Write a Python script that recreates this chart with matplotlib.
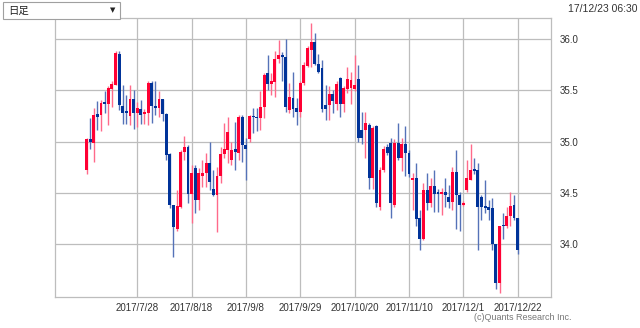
import matplotlib
matplotlib.use("Agg")
import matplotlib.pyplot as plt
from matplotlib.patches import Rectangle
import numpy as np

opens = [34.72, 35.02, 34.99, 35.27, 35.26, 35.39, 35.37, 35.51, 35.55, 35.86,
         35.35, 35.30, 35.25, 35.42, 35.28, 35.32, 35.27, 35.28, 35.57, 35.35,
         35.33, 35.42, 35.27, 34.88, 34.38, 34.14, 34.36, 34.90, 34.95, 34.49,
         34.74, 34.43, 34.66, 34.69, 34.79, 34.54, 34.48, 34.66, 34.88, 34.92,
         34.82, 34.93, 34.89, 35.24, 34.97, 35.02, 35.25, 35.24, 35.23, 35.34,
         35.67, 35.56, 35.58, 35.81, 35.85, 35.83, 35.31, 35.43, 35.33, 35.29,
         35.57, 35.74, 35.90, 35.97, 35.76, 35.72, 35.36, 35.36, 35.46, 35.37,
         35.62, 35.37, 35.51, 35.52, 35.51, 35.61, 35.11, 35.11, 35.16, 34.64,
         35.15, 34.36, 34.72, 34.95, 34.99, 34.38, 34.99, 34.84, 34.98, 34.89,
         34.62, 34.64, 34.25, 34.05, 34.53, 34.40, 34.57, 34.51, 34.49, 34.51,
         34.46, 34.41, 34.70, 34.48, 34.38, 34.53, 34.62, 34.73, 34.72, 34.46,
         34.37, 34.36, 34.35, 34.00, 33.62, 34.18, 34.17, 34.27, 34.38, 34.25]
highs = [35.03, 35.23, 35.33, 35.40, 35.41, 35.49, 35.54, 35.59, 35.89, 35.89,
         35.55, 35.46, 35.55, 35.50, 35.39, 35.41, 35.32, 35.59, 35.59, 35.59,
         35.49, 35.42, 35.28, 34.89, 34.38, 34.53, 34.92, 35.05, 34.97, 34.77,
         34.77, 34.74, 34.82, 34.89, 35.00, 34.72, 34.75, 34.95, 35.18, 35.24,
         35.00, 35.19, 35.26, 35.26, 35.03, 35.26, 35.33, 35.33, 35.49, 35.67,
         35.85, 35.67, 35.89, 35.99, 35.88, 36.00, 35.57, 35.68, 35.43, 35.59,
         35.78, 35.93, 36.16, 36.06, 35.86, 35.80, 35.55, 35.54, 35.50, 35.59,
         35.63, 35.54, 35.73, 35.68, 35.85, 35.75, 35.29, 35.29, 35.18, 35.15,
         35.16, 34.75, 34.96, 34.98, 35.03, 35.02, 35.18, 35.03, 35.15, 34.92,
         34.69, 34.79, 34.33, 34.59, 34.69, 34.64, 34.72, 34.54, 34.55, 34.64,
         34.58, 34.75, 34.92, 34.51, 34.42, 34.82, 34.98, 34.84, 34.79, 34.48,
         34.62, 34.43, 34.45, 34.00, 34.17, 34.30, 34.36, 34.51, 34.48, 34.25]
lows = [34.68, 34.93, 34.80, 35.11, 35.10, 35.28, 35.16, 35.34, 35.55, 35.31,
        35.17, 35.17, 35.16, 35.12, 35.14, 35.17, 35.17, 35.16, 35.18, 35.26,
        35.24, 35.20, 34.82, 34.35, 33.87, 34.13, 34.35, 34.82, 34.40, 34.20,
        34.30, 34.33, 34.56, 34.56, 34.53, 34.47, 34.12, 34.59, 34.84, 34.79,
        34.77, 34.72, 34.82, 34.80, 34.62, 35.00, 35.08, 35.10, 35.11, 35.23,
        35.50, 35.46, 35.44, 35.77, 35.59, 35.29, 35.28, 35.24, 35.16, 35.24,
        35.55, 35.73, 35.73, 35.75, 35.67, 35.29, 35.21, 35.21, 35.28, 35.31,
        35.24, 35.29, 35.47, 35.37, 35.49, 35.00, 34.98, 34.84, 34.54, 34.54,
        34.36, 34.33, 34.70, 34.87, 34.25, 34.36, 34.82, 34.71, 34.66, 34.65,
        34.33, 34.17, 33.94, 34.04, 34.33, 34.36, 34.31, 34.31, 34.28, 34.36,
        34.35, 34.33, 34.14, 34.13, 34.37, 34.51, 34.62, 34.68, 33.94, 34.23,
        34.30, 34.23, 33.94, 33.56, 33.52, 34.05, 34.15, 34.17, 34.23, 33.90]
closes = [35.02, 35.00, 35.26, 35.24, 35.38, 35.37, 35.52, 35.56, 35.87, 35.36,
          35.28, 35.28, 35.42, 35.28, 35.33, 35.26, 35.29, 35.57, 35.35, 35.33,
          35.42, 35.27, 34.87, 34.38, 34.16, 34.37, 34.90, 34.95, 34.49, 34.69,
          34.43, 34.69, 34.69, 34.79, 34.60, 34.48, 34.66, 34.88, 34.93, 35.09,
          34.92, 34.90, 35.24, 34.97, 34.93, 35.25, 35.24, 35.23, 35.34, 35.65,
          35.56, 35.59, 35.81, 35.85, 35.83, 35.34, 35.44, 35.32, 35.29, 35.57,
          35.75, 35.91, 35.97, 35.76, 35.68, 35.32, 35.32, 35.46, 35.40, 35.56,
          35.37, 35.52, 35.61, 35.60, 35.55, 35.03, 35.03, 35.18, 34.64, 35.13,
          34.40, 34.72, 34.93, 34.89, 34.40, 34.99, 34.84, 34.98, 34.89, 34.68,
          34.64, 34.24, 34.05, 34.53, 34.40, 34.57, 34.49, 34.49, 34.51, 34.48,
          34.41, 34.70, 34.48, 34.38, 34.40, 34.64, 34.72, 34.71, 34.36, 34.36,
          34.35, 34.33, 34.00, 33.62, 34.17, 34.17, 34.27, 34.37, 34.25, 33.94]

tick_labels = ["2017/7/28", "2017/8/18", "2017/9/8", "2017/9/29",
               "2017/10/20", "2017/11/10", "2017/12/1", "2017/12/22"]
tick_index = [14, 29, 44, 59, 74, 89, 104, 119]
y_ticks = [34.0, 34.5, 35.0, 35.5, 36.0]

UP = "#ff0033"
DOWN = "#003399"
UP_W = "#ff6a8a"
DOWN_W = "#5572b8"
GRID = "#bdbdbd"

fig = plt.figure(figsize=(6.4, 3.28), dpi=100)
ax = fig.add_axes([55/640, 31/328, 496/640, 279/328])

o = np.array(opens); h = np.array(highs); l = np.array(lows); c = np.array(closes)
x = np.arange(len(o))
up = c >= o
ax.vlines(x[up], l[up], h[up], color=UP_W, linewidth=1.0, zorder=2)
ax.vlines(x[~up], l[~up], h[~up], color=DOWN_W, linewidth=1.0, zorder=2)
bottom = np.minimum(o, c)
height = np.maximum(np.abs(c - o), 0.012)
ax.bar(x[up], height[up], bottom=bottom[up], width=0.8, color=UP, linewidth=0, zorder=3)
ax.bar(x[~up], height[~up], bottom=bottom[~up], width=0.8, color=DOWN, linewidth=0, zorder=3)

ax.set_xlim(-8.7, 128.2)
ax.set_ylim(33.48, 36.208)
ax.set_xticks(tick_index)
ax.set_xticklabels(tick_labels)
ax.set_yticks(y_ticks)
ax.set_yticklabels([f"{v:.1f}" for v in y_ticks])
ax.yaxis.tick_right()
ax.tick_params(axis="both", length=0, labelsize=7, colors="#333333")
ax.tick_params(axis="x", pad=4)
ax.tick_params(axis="y", pad=6)
for lab in ax.get_xticklabels() + ax.get_yticklabels():
    lab.set_fontfamily("Liberation Sans")
ax.grid(True, color=GRID, linewidth=0.9, zorder=0)
ax.set_axisbelow(True)
for s in ax.spines.values():
    s.set_color(GRID)
    s.set_linewidth(0.9)

# header controls
fig.patches.append(Rectangle((3/640, 1 - 19/328), 117/640, 17/328, transform=fig.transFigure,
                             facecolor="white", edgecolor="#a0a0a0", linewidth=0.8))
fig.text(8/640, 1 - 10.5/328, "日足", fontsize=7.5, va="center", ha="left",
         family=["Noto Sans CJK JP", "DejaVu Sans"], color="#222222")
fig.text(113/640, 1 - 10.5/328, "▼", fontsize=5, va="center", ha="center",
         family=["DejaVu Sans"], color="#222222")
fig.text(637/640, 1 - 9/328, "17/12/23 06:30", fontsize=7.5, va="center", ha="right",
         family="Liberation Sans", color="#333333")
fig.text(572/640, 1 - 318/328, "(c)Quants Research Inc.", fontsize=6.5, va="center", ha="right",
         family="Liberation Sans", color="#777777")

fig.savefig("out.png", dpi=100, facecolor="white")
